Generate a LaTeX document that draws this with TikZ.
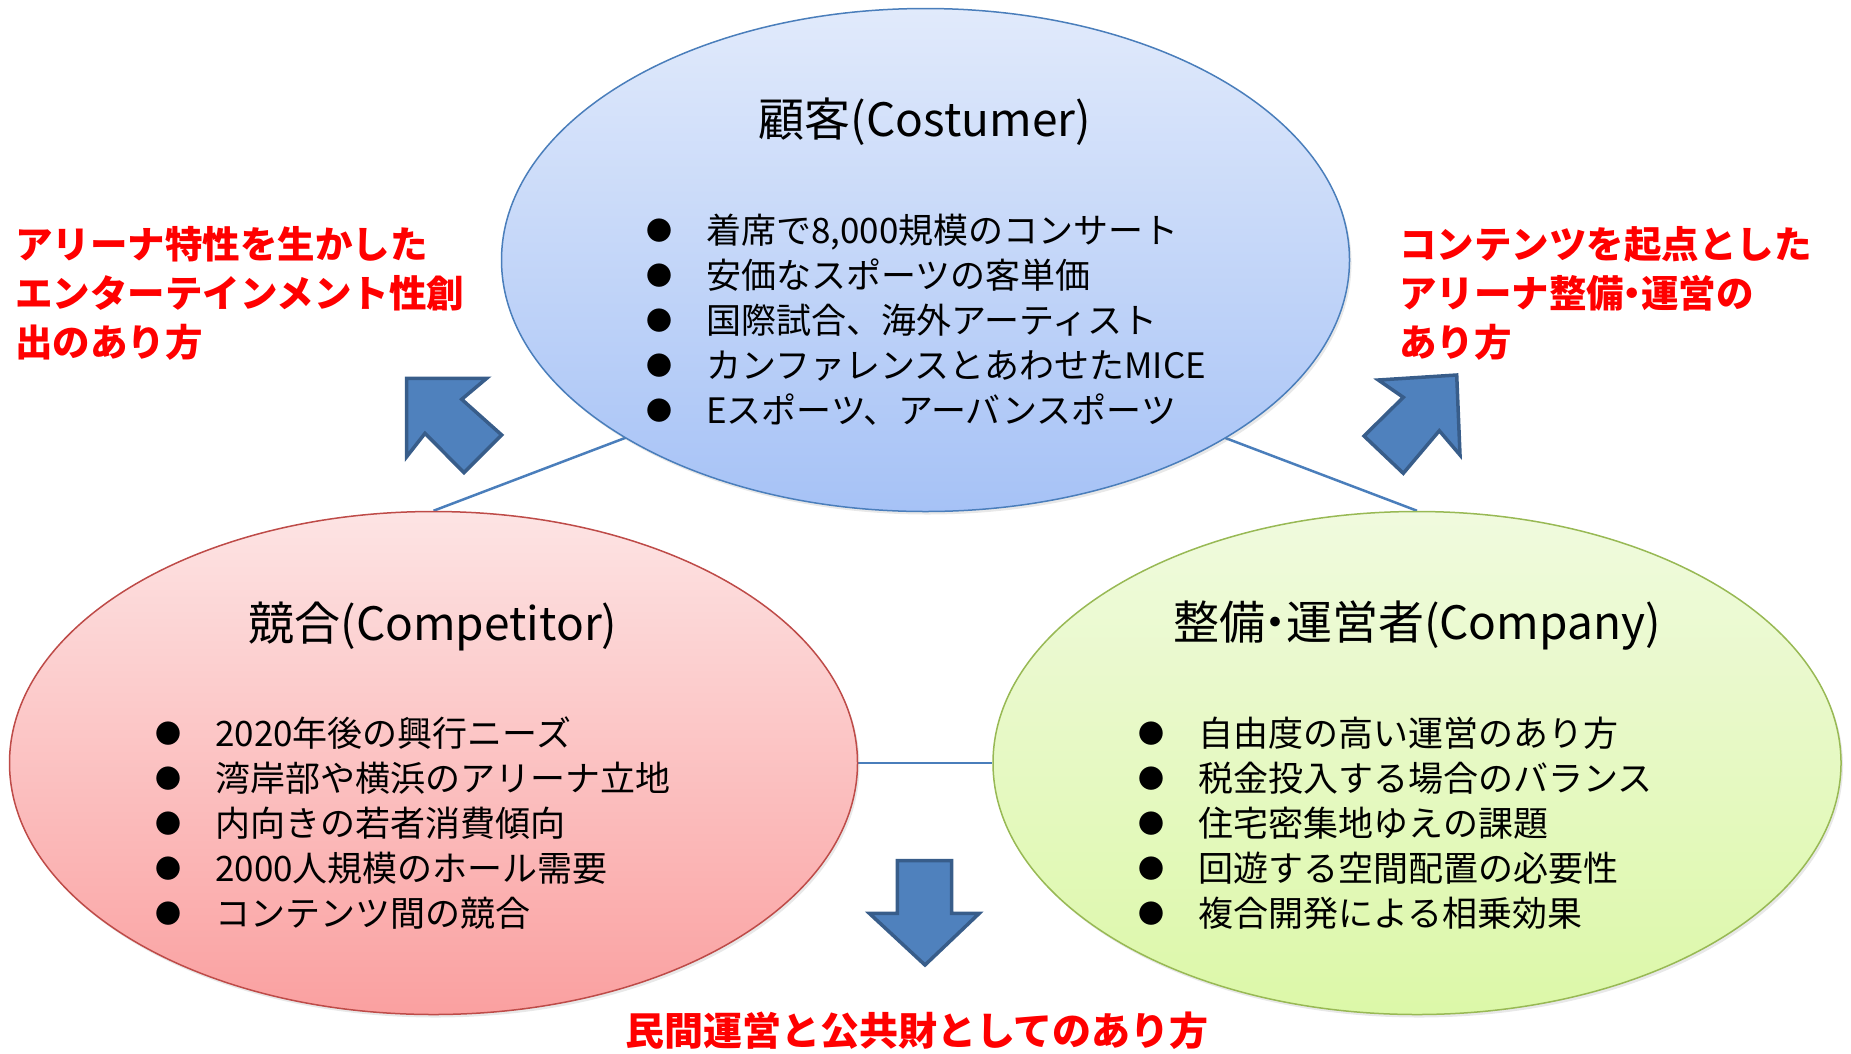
\documentclass[tikz,border=0pt]{standalone}
\usepackage{fontspec}
\setmainfont{Noto Sans CJK JP}
\usetikzlibrary{shapes.geometric,shadows}
\pgfdeclarelayer{background}
\pgfsetlayers{background,main}
\definecolor{bline}{HTML}{4A7EBB}
\definecolor{rline}{HTML}{BE4B48}
\definecolor{gline}{HTML}{98B954}
\definecolor{btop}{RGB}{225,234,251}
\definecolor{bbot}{RGB}{166,194,246}
\definecolor{rtop}{RGB}{253,228,228}
\definecolor{rbot}{RGB}{250,160,160}
\definecolor{gtop}{RGB}{240,250,222}
\definecolor{gbot}{RGB}{220,248,168}
\definecolor{arrfill}{HTML}{4F81BD}
\definecolor{arrline}{HTML}{385D8A}
\definecolor{conncol}{HTML}{4A7EBB}
\newcommand{\bitem}[1]{\makebox[60pt][l]{\raisebox{3pt}{\fontsize{26}{26}\selectfont ●}}#1}
\newcommand{\ndot}{\makebox[0.45em][c]{・}}
\begin{document}
\begin{tikzpicture}[x=1pt,y=-1pt,
  circ/.style={ellipse, minimum width=848pt, minimum height=503pt, inner sep=0pt, line width=1.5pt, shade,
    drop shadow={shadow xshift=2pt, shadow yshift=-3pt, opacity=0.18}},
  bigarrow/.style={fill=arrfill, draw=arrline, line width=3.5pt, line join=miter},
  conn/.style={draw=conncol, line width=2.5pt},
  item/.style={anchor=base west, inner sep=0pt, font=\fontsize{35}{35}\selectfont},
  ttl/.style={inner sep=0pt, font=\fontsize{46}{46}\selectfont},
  redtxt/.style={text=red, inner sep=0pt, align=left, font=\bfseries\fontsize{37.5}{49}\selectfont}]
\useasboundingbox (0,0) rectangle (1851,1053);
% ellipses
\node[circ, top color=btop, bottom color=bbot, draw=bline] (T) at (925.5,260) {};
\node[circ, top color=rtop, bottom color=rbot, draw=rline] (L) at (433.5,763) {};
\node[circ, top color=gtop, bottom color=gbot, draw=gline] (R) at (1417,763) {};
% connectors behind
\begin{pgfonlayer}{background}
\coordinate (apex) at (925,324);
\draw[conn] (L.north) -- (apex);
\draw[conn] (R.north) -- (apex);
\draw[conn] (L.east) -- (R.west);
\end{pgfonlayer}
% titles
\node[ttl] (Tt) at (925,122) {顧客(Costumer)};
\node[ttl] (Lt) at (433,626) {競合(Competitor)};
\node[ttl] (Rt) at (1417,626) {整備\ndot 運営者(Company)};
% bullet lists
\foreach \t [count=\i] in {{着席で8,000規模のコンサート},{安価なスポーツの客単価},{国際試合、海外アーティスト},{カンファレンスとあわせたMICE},{Eスポーツ、アーバンスポーツ}}
  \node[item] (ti\i) at (646,243+45*\i-45) {\bitem{\t}};
\foreach \t [count=\i] in {{2020年後の興行ニーズ},{湾岸部や横浜のアリーナ立地},{内向きの若者消費傾向},{2000人規模のホール需要},{コンテンツ間の競合}}
  \node[item] (li\i) at (155,746+45*\i-45) {\bitem{\t}};
\foreach \t [count=\i] in {{自由度の高い運営のあり方},{税金投入する場合のバランス},{住宅密集地ゆえの課題},{回遊する空間配置の必要性},{複合開発による相乗効果}}
  \node[item] (ri\i) at (1138,746+45*\i-45) {\bitem{\t}};
% red texts
\node[redtxt, anchor=north west] (redL) at (15,226) {アリーナ特性を生かした\\エンターテインメント性創\\出のあり方};
\node[redtxt, anchor=north west] (redR) at (1399,226) {コンテンツを起点とした\\アリーナ整備\ndot 運営の\\あり方};
\node[redtxt, font=\bfseries\fontsize{39}{49}\selectfont] (redB) at (917,1031) {民間運営と公共財としてのあり方};
% block arrows
\draw[bigarrow] (406.7,378.3) -- (486.7,378.3) -- (461.7,399.3) -- (501.7,435) -- (464,472.7) -- (425,433.3) -- (406.7,456.7) -- cycle;
\draw[bigarrow] (1456.7,375) -- (1460,455) -- (1439.3,430.7) -- (1403.3,473.3) -- (1364,436) -- (1403.3,397.3) -- (1378.3,380) -- cycle;
\draw[bigarrow] (897.3,860.7) -- (951.7,860.7) -- (951.7,913.3) -- (979.3,913.3) -- (925,965) -- (869.3,913.3) -- (897.3,913.3) -- cycle;
\end{tikzpicture}
\end{document}
